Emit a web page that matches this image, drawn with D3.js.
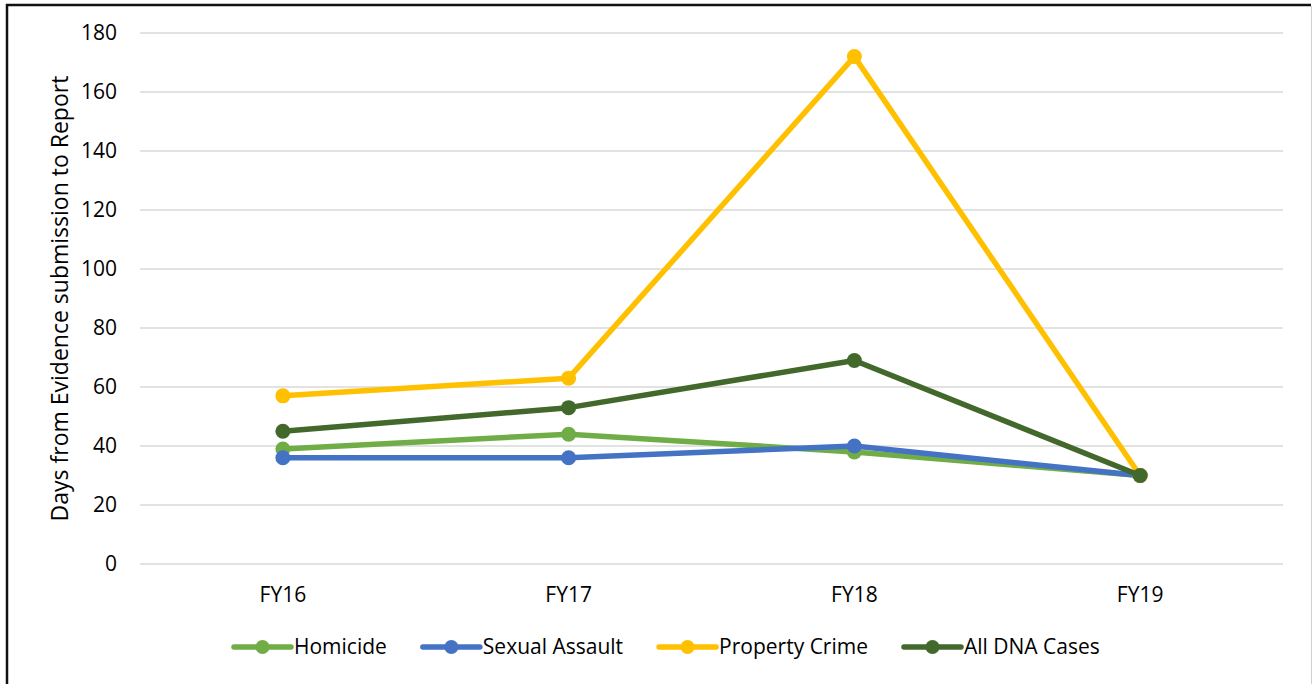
<!DOCTYPE html>
<html>
<head>
  <meta charset="UTF-8">
  <style>
body {
    margin: 0;
    padding: 0;
    background-color: white;
}
svg text {
    font-family: "Open Sans", sans-serif;
    fill: #000;
}
  </style>
</head>
<body>
<svg></svg>

<script src="https://d3js.org/d3.v7.min.js"></script>
<script>

let width = 1312, height = 684;

// data
const years = ["FY16", "FY17", "FY18", "FY19"];
const seriesNames = ["Homicide", "Sexual Assault", "Property Crime", "All DNA Cases"];
const homicide = [39, 44, 38, 30];
const sexualAssault = [36, 36, 40, 30];
const propertyCrime = [57, 63, 172, 30];
const allDna = [45, 53, 69, 30];
const yTicks = [0, 20, 40, 60, 80, 100, 120, 140, 160, 180];
const colors = ["#70ad47", "#4472c4", "#ffc000", "#43682b"];

const series = [homicide, sexualAssault, propertyCrime, allDna].map((vals, i) => ({
  name: seriesNames[i],
  color: colors[i],
  values: vals
}));

let svg = d3.select("svg")
    .attr("width", width)
    .attr("height", height);

const plot = { left: 140, right: 1283, top: 33, bottom: 564 };

let x = d3.scaleBand()
    .domain(years)
    .range([plot.left, plot.right]);

let y = d3.scaleLinear()
    .domain([0, 180])
    .range([plot.bottom, plot.top]);

// frame
svg.append("line")
  .attr("x1", 7).attr("x2", 7).attr("y1", 4).attr("y2", height)
  .attr("stroke", "#111").attr("stroke-width", 2.5);
svg.append("line")
  .attr("x1", 6).attr("x2", 1311).attr("y1", 5).attr("y2", 5)
  .attr("stroke", "#111").attr("stroke-width", 2.5);
svg.append("line")
  .attr("x1", 1311.5).attr("x2", 1311.5).attr("y1", 6).attr("y2", height)
  .attr("stroke", "#d0d0d0").attr("stroke-width", 1);

// gridlines
svg.append("g")
  .selectAll("line")
  .data(yTicks)
  .enter()
  .append("line")
  .attr("x1", plot.left)
  .attr("x2", plot.right)
  .attr("y1", d => y(d))
  .attr("y2", d => y(d))
  .attr("stroke", "#d9d9d9")
  .attr("stroke-width", 1.5);

// y tick labels
svg.append("g")
  .selectAll("text")
  .data(yTicks)
  .enter()
  .append("text")
  .attr("x", 117)
  .attr("y", d => y(d))
  .attr("dy", "0.35em")
  .attr("text-anchor", "end")
  .attr("font-size", "21px")
  .text(d => d);

// x labels
svg.append("g")
  .selectAll("text")
  .data(years)
  .enter()
  .append("text")
  .attr("x", d => x(d) + x.bandwidth() / 2)
  .attr("y", 595)
  .attr("dy", "0.35em")
  .attr("text-anchor", "middle")
  .attr("font-size", "21px")
  .text(d => d);

// y axis title
svg.append("text")
  .attr("transform", `translate(60, ${(plot.top + plot.bottom) / 2}) rotate(-90)`)
  .attr("text-anchor", "middle")
  .attr("dy", "0.35em")
  .attr("font-size", "23px")
  .text("Days from Evidence submission to Report");

let line = d3.line()
  .x((d, i) => x(years[i]) + x.bandwidth() / 2)
  .y(d => y(d));

let lines = svg.append("g");
series.forEach(s => {
  let g = lines.append("g");
  g.append("path")
    .attr("d", line(s.values))
    .attr("fill", "none")
    .attr("stroke", s.color)
    .attr("stroke-width", 5.5)
    .attr("stroke-linejoin", "round");
  g.selectAll("circle")
    .data(s.values)
    .enter()
    .append("circle")
    .attr("cx", (d, i) => x(years[i]) + x.bandwidth() / 2)
    .attr("cy", d => y(d))
    .attr("r", 7.5)
    .attr("fill", s.color);
});

// legend
const legendY = 647;
let lx = 234;
let legend = svg.append("g");
series.forEach(s => {
  let g = legend.append("g").attr("transform", `translate(${lx}, ${legendY})`);
  g.append("line")
    .attr("x1", 0).attr("x2", 57)
    .attr("y1", 0).attr("y2", 0)
    .attr("stroke", s.color)
    .attr("stroke-width", 5.5)
    .attr("stroke-linecap", "round");
  g.append("circle")
    .attr("cx", 28.5).attr("cy", 0).attr("r", 7)
    .attr("fill", s.color);
  let t = g.append("text")
    .attr("x", 60)
    .attr("dy", "0.35em")
    .attr("font-size", "21px")
    .text(s.name);
  lx += 60 + t.node().getComputedTextLength() + 36;
});

</script>
</body>
</html>
